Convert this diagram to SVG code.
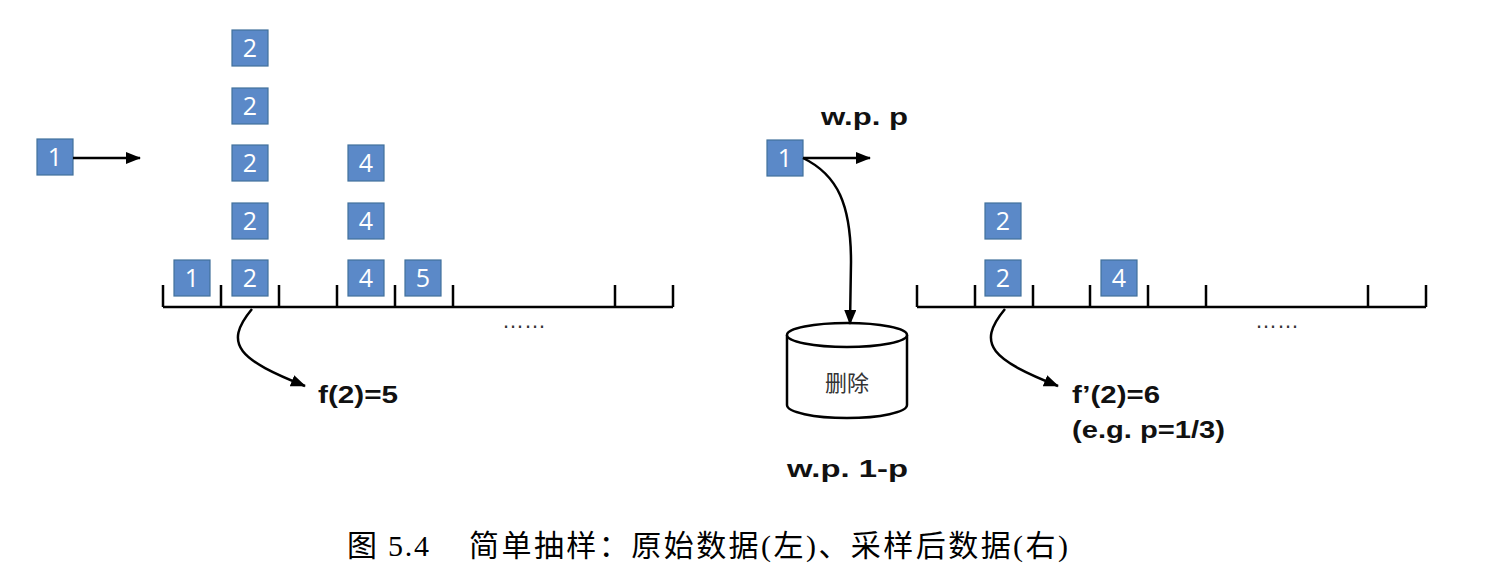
<svg xmlns="http://www.w3.org/2000/svg" width="1500" height="580" viewBox="0 0 1500 580">
<style>
.box rect{fill:#5B89C8;stroke:#41719C;stroke-width:1.2}
.box text{fill:#fff;font-family:"Open Sans","Liberation Sans",sans-serif;font-size:25px;text-anchor:middle}
.ax{stroke:#000;stroke-width:2.5;fill:none}
.con{stroke:#000;stroke-width:2.5;fill:none}
.lbl{font-family:"Liberation Sans","Noto Sans",sans-serif;font-weight:bold;font-size:24px;fill:#111}
.dots{font-family:"Liberation Sans",sans-serif;font-size:22px;fill:#333}
</style>
<defs>
<marker id="ah" markerUnits="userSpaceOnUse" markerWidth="16" markerHeight="14" refX="14" refY="6" orient="auto">
<path d="M0,0 L15,6 L0,12 Z" fill="#000"/>
</marker>
</defs>
<rect width="1500" height="580" fill="#fff"/>

<!-- left axis -->
<g id="axis-left">
<path class="ax" d="M163,307 H673 M163,285 V307 M221,285 V307 M279,285 V307 M337,285 V307 M395,285 V307 M453,285 V307 M615,285 V307 M673,285 V307"/>
<text class="dots" x="502" y="328">……</text>
</g>
<!-- right axis -->
<g id="axis-right">
<path class="ax" d="M917,307 H1426 M917,285 V307 M975,285 V307 M1033,285 V307 M1090,285 V307 M1148,285 V307 M1206,285 V307 M1368,285 V307 M1426,285 V307"/>
<text class="dots" x="1255" y="328">……</text>
</g>

<!-- left boxes -->
<g id="l-in" class="box"><rect x="37" y="139" width="36" height="36"/><text x="55" y="166">1</text></g>
<g id="l-c2-1" class="box"><rect x="232" y="30" width="36" height="36"/><text x="250" y="57">2</text></g>
<g id="l-c2-2" class="box"><rect x="232" y="88" width="36" height="36"/><text x="250" y="115">2</text></g>
<g id="l-c2-3" class="box"><rect x="232" y="145" width="36" height="36"/><text x="250" y="172">2</text></g>
<g id="l-c2-4" class="box"><rect x="232" y="203" width="36" height="36"/><text x="250" y="230">2</text></g>
<g id="l-c2-5" class="box"><rect x="232" y="260" width="36" height="36"/><text x="250" y="287">2</text></g>
<g id="l-c1" class="box"><rect x="174" y="260" width="36" height="36"/><text x="192" y="287">1</text></g>
<g id="l-c4-1" class="box"><rect x="348" y="145" width="36" height="36"/><text x="366" y="172">4</text></g>
<g id="l-c4-2" class="box"><rect x="348" y="203" width="36" height="36"/><text x="366" y="230">4</text></g>
<g id="l-c4-3" class="box"><rect x="348" y="260" width="36" height="36"/><text x="366" y="287">4</text></g>
<g id="l-c5" class="box"><rect x="405" y="260" width="36" height="36"/><text x="423" y="287">5</text></g>

<!-- right boxes -->
<g id="r-in" class="box"><rect x="767" y="140" width="36" height="36"/><text x="785" y="167">1</text></g>
<g id="r-c2-1" class="box"><rect x="985" y="203" width="36" height="36"/><text x="1003" y="230">2</text></g>
<g id="r-c2-2" class="box"><rect x="985" y="260" width="36" height="36"/><text x="1003" y="287">2</text></g>
<g id="r-c4" class="box"><rect x="1101" y="260" width="36" height="36"/><text x="1119" y="287">4</text></g>

<!-- cylinder -->
<g id="delete">
<path d="M787,335 V405 A60,13 0 0 0 907,405 V335" fill="#fff" stroke="#000" stroke-width="2.5"/>
<ellipse cx="847" cy="335" rx="60" ry="12" fill="#fff" stroke="#000" stroke-width="2.5"/>
<text x="847" y="391" text-anchor="middle" font-family="Noto Sans CJK SC, sans-serif" font-size="22" fill="#333">删除</text>
</g>

<!-- connectors -->
<g id="connectors">
<path class="con" d="M73,158 H140" marker-end="url(#ah)"/>
<path class="con" d="M803,158 H870" marker-end="url(#ah)"/>
<path class="con" d="M803,158 C838,175 851,205 851,262 L850,324" marker-end="url(#ah)"/>
<path class="con" d="M252,309 C222,345 240,360 305,386" marker-end="url(#ah)"/>
<path class="con" d="M1005,309 C975,345 993,360 1058,386" marker-end="url(#ah)"/>
</g>

<!-- labels -->
<g id="labels">
<text class="lbl" x="318" y="403" textLength="80" lengthAdjust="spacingAndGlyphs">f(2)=5</text>
<text class="lbl" x="821" y="125" textLength="87" lengthAdjust="spacingAndGlyphs">w.p. p</text>
<text class="lbl" x="787" y="477" textLength="121" lengthAdjust="spacingAndGlyphs">w.p. 1-p</text>
<text class="lbl" x="1072" y="403" textLength="88" lengthAdjust="spacingAndGlyphs">f’(2)=6</text>
<text class="lbl" x="1072" y="438" textLength="153" lengthAdjust="spacingAndGlyphs">(e.g. p=1/3)</text>
</g>

<!-- caption -->
<g id="caption" font-family="Liberation Serif, Noto Sans CJK SC, serif" font-size="30" fill="#000">
<text x="347" y="556" textLength="82">图 5.4</text>
<text x="469" y="556" textLength="599">简单抽样：原始数据(左)、采样后数据(右)</text>
</g>
</svg>
